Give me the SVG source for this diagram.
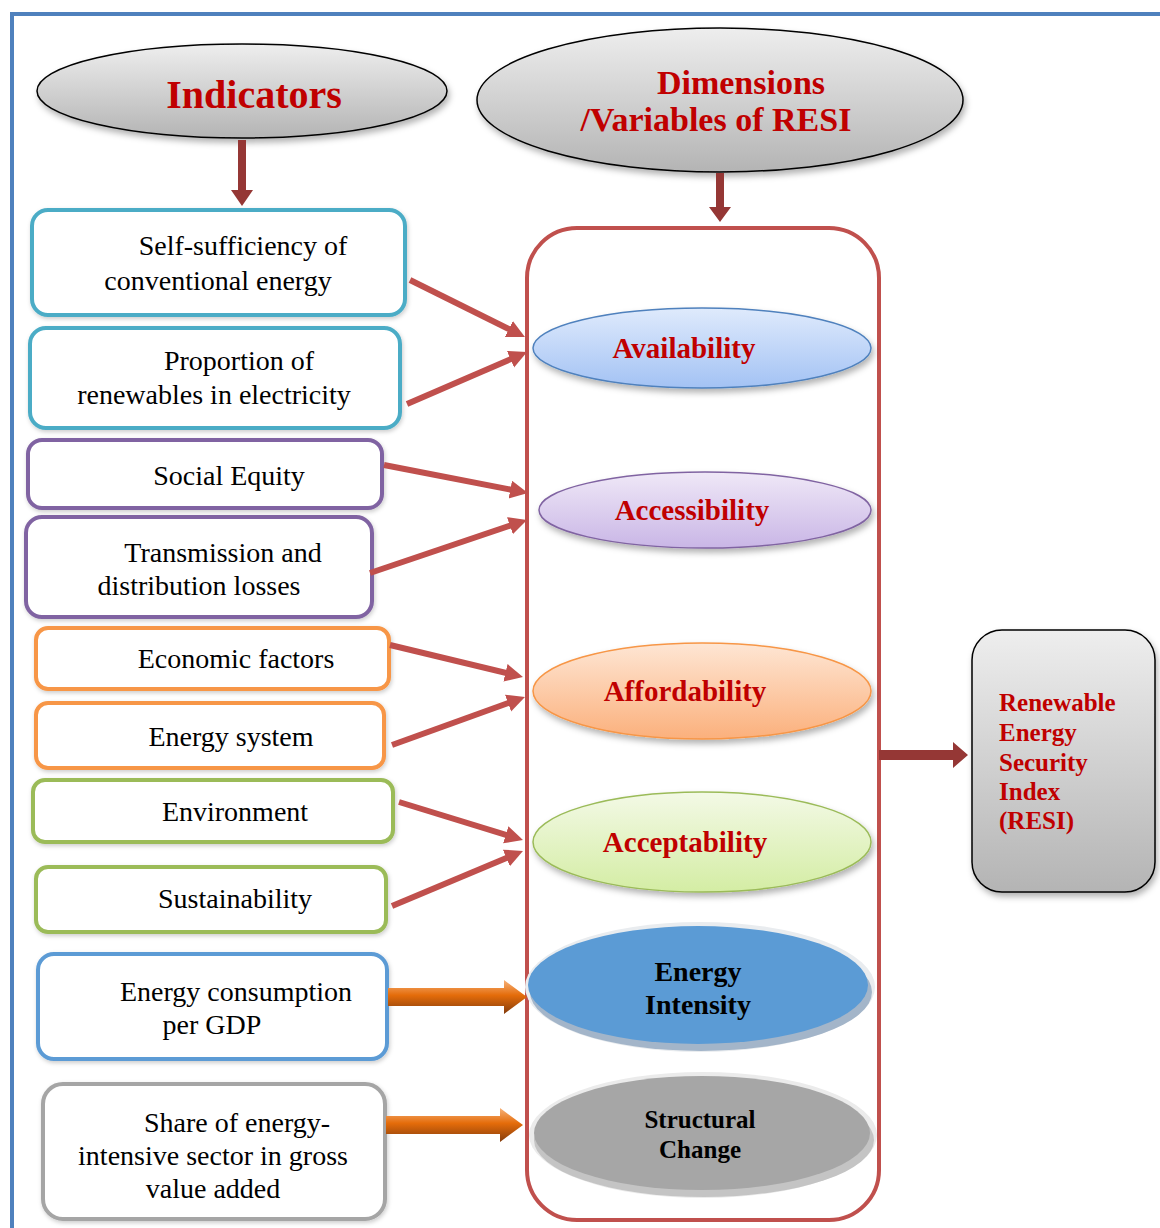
<svg xmlns="http://www.w3.org/2000/svg" width="1160" height="1228" viewBox="0 0 1160 1228">
<defs>
<style>
.box{fill:#fff;stroke-width:4}
.lbl{font-family:"Liberation Serif","Times New Roman",serif;font-size:28px;fill:#000;text-anchor:middle}
.dim{font-family:"Liberation Serif","Times New Roman",serif;font-size:29px;font-weight:bold;fill:#c00000;text-anchor:middle}
.hdr{font-family:"Liberation Serif","Times New Roman",serif;font-weight:bold;fill:#c00000;text-anchor:middle}
.blk{font-family:"Liberation Serif","Times New Roman",serif;font-weight:bold;fill:#000;text-anchor:middle}
.con{stroke:#c0504d;stroke-width:6;fill:none;marker-end:url(#rh)}
</style>
<linearGradient id="gGray" x1="0" y1="0" x2="0" y2="1"><stop offset="0" stop-color="#eeeeee"/><stop offset="1" stop-color="#b4b4b4"/></linearGradient>
<linearGradient id="gBlue" x1="0" y1="0" x2="0" y2="1"><stop offset="0" stop-color="#dfeafc"/><stop offset="1" stop-color="#a3c2f4"/></linearGradient>
<linearGradient id="gPur" x1="0" y1="0" x2="0" y2="1"><stop offset="0" stop-color="#efe8f7"/><stop offset="1" stop-color="#c9b6e6"/></linearGradient>
<linearGradient id="gOr" x1="0" y1="0" x2="0" y2="1"><stop offset="0" stop-color="#fee6d4"/><stop offset="1" stop-color="#fbb07c"/></linearGradient>
<linearGradient id="gGr" x1="0" y1="0" x2="0" y2="1"><stop offset="0" stop-color="#f3f9e6"/><stop offset="1" stop-color="#d4eda4"/></linearGradient>
<linearGradient id="gArr" x1="0" y1="0" x2="0" y2="1"><stop offset="0" stop-color="#f7b27a"/><stop offset="0.45" stop-color="#e46c0a"/><stop offset="1" stop-color="#843c0c"/></linearGradient>
<filter id="sh" x="-10%" y="-10%" width="125%" height="140%"><feDropShadow dx="2" dy="4" stdDeviation="3" flood-color="#000" flood-opacity="0.3"/></filter>
<filter id="shl" x="-10%" y="-10%" width="125%" height="140%"><feDropShadow dx="1" dy="2" stdDeviation="2" flood-color="#000" flood-opacity="0.2"/></filter>
<marker id="rh" markerUnits="userSpaceOnUse" markerWidth="20" markerHeight="20" refX="6" refY="9" orient="auto"><path d="M0,0 L18,9 L0,18 z" fill="#c0504d"/></marker>
</defs>

<path d="M12,1228 V14 H1160" fill="none" stroke="#4f81bd" stroke-width="4"/>

<g id="indicators">
<ellipse cx="242" cy="91" rx="205" ry="47" fill="url(#gGray)" stroke="#000" stroke-width="1.5" filter="url(#sh)"/>
<text class="hdr" x="254" y="108" font-size="40">Indicators</text>
</g>

<g id="dimensions">
<ellipse cx="720" cy="100" rx="243" ry="72" fill="url(#gGray)" stroke="#000" stroke-width="1.5" filter="url(#sh)"/>
<text class="hdr" x="741" y="94" font-size="34">Dimensions</text>
<text class="hdr" x="716" y="131" font-size="34">/Variables of RESI</text>
</g>

<g id="container">
<rect x="527" y="228" width="352" height="992" rx="50" fill="none" stroke="#c0504d" stroke-width="4"/>
</g>

<g id="box-self-sufficiency"><rect class="box" x="32" y="210" width="373" height="105" rx="16" stroke="#4bacc6" filter="url(#shl)"/>
<text class="lbl" x="243" y="255">Self-sufficiency of</text><text class="lbl" x="218" y="290">conventional energy</text></g>
<g id="box-proportion"><rect class="box" x="30" y="328" width="370" height="100" rx="16" stroke="#4bacc6" filter="url(#shl)"/>
<text class="lbl" x="239" y="370">Proportion of</text><text class="lbl" x="214" y="404">renewables in electricity</text></g>
<g id="box-social"><rect class="box" x="28" y="440" width="354" height="68" rx="14" stroke="#8064a2" filter="url(#shl)"/>
<text class="lbl" x="229" y="485">Social Equity</text></g>
<g id="box-transmission"><rect class="box" x="26" y="517" width="346" height="100" rx="16" stroke="#8064a2" filter="url(#shl)"/>
<text class="lbl" x="223" y="562">Transmission and</text><text class="lbl" x="199" y="595">distribution losses</text></g>
<g id="box-economic"><rect class="box" x="36" y="628" width="353" height="61" rx="12" stroke="#f79646" filter="url(#shl)"/>
<text class="lbl" x="236" y="668">Economic factors</text></g>
<g id="box-energy-system"><rect class="box" x="36" y="703" width="348" height="65" rx="12" stroke="#f79646" filter="url(#shl)"/>
<text class="lbl" x="231" y="746">Energy system</text></g>
<g id="box-environment"><rect class="box" x="33" y="780" width="360" height="62" rx="12" stroke="#9bbb59" filter="url(#shl)"/>
<text class="lbl" x="235" y="821">Environment</text></g>
<g id="box-sustainability"><rect class="box" x="36" y="867" width="350" height="65" rx="12" stroke="#9bbb59" filter="url(#shl)"/>
<text class="lbl" x="235" y="908">Sustainability</text></g>
<g id="box-consumption"><rect class="box" x="38" y="954" width="349" height="105" rx="16" stroke="#5b9bd5" stroke-width="5" filter="url(#shl)"/>
<text class="lbl" x="236" y="1001">Energy consumption</text><text class="lbl" x="212" y="1034">per GDP</text></g>
<g id="box-share"><rect class="box" x="43" y="1084" width="342" height="135" rx="20" stroke="#a5a5a5" stroke-width="6" filter="url(#shl)"/>
<text class="lbl" x="237" y="1132">Share of energy-</text><text class="lbl" x="213" y="1165">intensive sector in gross</text><text class="lbl" x="213" y="1198">value added</text></g>

<g id="dim-availability"><ellipse cx="702" cy="348" rx="169" ry="40" fill="url(#gBlue)" stroke="#4f81bd" stroke-width="1.5" filter="url(#sh)"/>
<text class="dim" x="684" y="358">Availability</text></g>
<g id="dim-accessibility"><ellipse cx="705" cy="510" rx="166" ry="38" fill="url(#gPur)" stroke="#8064a2" stroke-width="1.5" filter="url(#sh)"/>
<text class="dim" x="692" y="520">Accessibility</text></g>
<g id="dim-affordability"><ellipse cx="702" cy="691" rx="169" ry="48" fill="url(#gOr)" stroke="#f79646" stroke-width="1.5" filter="url(#sh)"/>
<text class="dim" x="685" y="701">Affordability</text></g>
<g id="dim-acceptability"><ellipse cx="702" cy="842" rx="169" ry="50" fill="url(#gGr)" stroke="#9bbb59" stroke-width="1.5" filter="url(#sh)"/>
<text class="dim" x="685" y="852">Acceptability</text></g>
<g id="dim-energy-intensity">
<ellipse cx="700" cy="987" rx="175" ry="65" fill="#e9ecef"/>
<ellipse cx="701" cy="992" rx="171" ry="59" fill="#a3b5c9"/>
<ellipse cx="698" cy="985" rx="170" ry="59" fill="#5b9bd5"/>
<text class="blk" x="698" y="981" font-size="28">Energy</text>
<text class="blk" x="698" y="1014" font-size="28">Intensity</text></g>
<g id="dim-structural-change">
<ellipse cx="703" cy="1135" rx="174" ry="63" fill="#ebebeb"/>
<ellipse cx="704" cy="1140" rx="170" ry="57" fill="#c4c4c4"/>
<ellipse cx="702" cy="1133" rx="168" ry="57" fill="#a6a6a6"/>
<text class="blk" x="700" y="1128" font-size="25">Structural</text>
<text class="blk" x="700" y="1158" font-size="25">Change</text></g>

<g id="resi">
<rect x="972" y="630" width="183" height="262" rx="30" fill="url(#gGray)" stroke="#000" stroke-width="1.5" filter="url(#sh)"/>
<g font-family="'Liberation Serif','Times New Roman',serif" font-weight="bold" font-size="25" fill="#c00000">
<text x="999" y="711">Renewable</text>
<text x="999" y="741">Energy</text>
<text x="999" y="771">Security</text>
<text x="999" y="800">Index</text>
<text x="999" y="829">(RESI)</text>
</g></g>

<g id="connectors">
<path d="M238,140 V190 H231 L242,206 L253,190 H246 V140 z" fill="#953735"/>
<path d="M716,173 V207 H709 L720,222 L731,207 H724 V173 z" fill="#953735"/>
<path d="M879,750 H953 V742 L968,755 L953,768 V760 H879 z" fill="#953735"/>
<line class="con" x1="410" y1="280" x2="514.2" y2="331.7"/>
<line class="con" x1="407" y1="404" x2="516" y2="356.8"/>
<line class="con" x1="384" y1="465" x2="516.2" y2="490.7"/>
<line class="con" x1="370" y1="573" x2="515.6" y2="523.8"/>
<line class="con" x1="390" y1="645" x2="511.3" y2="674.2"/>
<line class="con" x1="392" y1="745" x2="513.7" y2="701.1"/>
<line class="con" x1="399" y1="802" x2="511.5" y2="836.5"/>
<line class="con" x1="392" y1="906" x2="511.9" y2="855.6"/>
<path d="M388,988 H504 V980 L527,997 L504,1014 V1006 H388 z" fill="url(#gArr)"/>
<path d="M386,1116 H500 V1108 L523,1125 L500,1142 V1134 H386 z" fill="url(#gArr)"/>
</g>
</svg>
